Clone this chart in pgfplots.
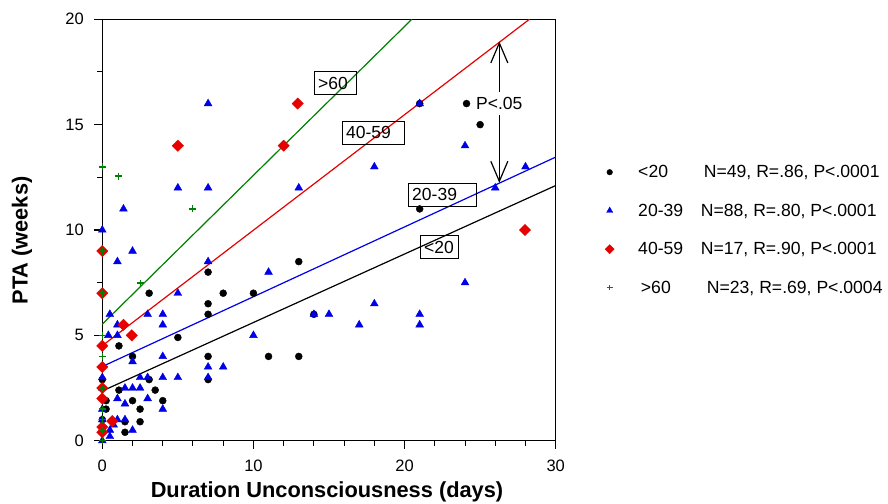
\documentclass[border=0pt]{standalone}
\usepackage{fontspec}
\setmainfont{Liberation Sans}
\usepackage{pgfplots}
\pgfplotsset{compat=1.18}
\usetikzlibrary{arrows.meta}
\definecolor{ptablue}{RGB}{0,0,230}
\definecolor{ptared}{RGB}{230,0,0}
\definecolor{ptagreen}{RGB}{0,128,0}
\pgfplotsset{
  scat/.style={only marks,
    legend image code/.code={\draw[##1] plot coordinates {(0pt,0pt)};
      \path[draw=none, fill=none] (-5pt,-5pt) rectangle (5pt,5pt);}},
  fit/.style={no marks, line width=1.2pt, forget plot},
}
\tikzset{
  tag/.style={draw=black, line width=1pt, anchor=west, minimum height=23pt,
    inner xsep=4pt, inner ysep=0pt, font=\fontsize{17.5}{21}\selectfont},
}
\begin{document}
\begin{tikzpicture}
\path[use as bounding box] (-102.3pt,-62.3pt) rectangle (785.7pt,440.7pt);
\begin{axis}[
  scale only axis, width=453.4pt, height=421.4pt,
  at={(0,0)}, anchor=south west,
  xmin=0, xmax=30, ymin=0, ymax=20,
  xtick={0,10,20,30}, ytick={0,5,10,15,20},
  minor x tick num=4, minor y tick num=1,
  tick pos=left, tick align=outside,
  major tick length=8pt, minor tick length=5pt,
  every tick/.style={black, line width=1.3pt},
  every minor tick/.append style={line width=1pt},
  axis line style={line width=1.5pt},
  tick label style={font=\fontsize{16.5}{20}\selectfont},
  yticklabel style={xshift=-7pt},
  xticklabel style={yshift=-8pt},
  /pgf/number format/assume math mode=true,
  xlabel={Duration Unconsciousness (days)},
  ylabel={PTA (weeks)},
  label style={font=\fontsize{21.8}{25}\selectfont\bfseries},
  xlabel style={at={(axis description cs:0.4956,-0.121)}, anchor=center},
  ylabel style={at={(axis description cs:-0.177,0.475)}, anchor=center},
  clip=false,
  legend cell align=left,
  legend image post style={scale=0.8},
  legend style={at={(axis description cs:1.1087,0.654)}, anchor=north west,
    draw=none, fill=none, inner sep=0pt, row sep=24.7pt,
    nodes={inner sep=0pt},
    font=\fontsize{17.6}{21}\selectfont},
]
% regression lines
\addplot[fit, black] coordinates {(0,2.36) (30,12.11)};
\addplot[fit, ptablue] coordinates {(0,3.52) (30,13.46)};
\addplot[fit, ptared] coordinates {(0,4.51) (28.26,20)};
\addplot[fit, ptagreen] coordinates {(0,5.53) (20.48,20)};

% <20
\addplot[scat, black, mark=*, mark size=3.5pt] coordinates {
 (21,16) (24.1,16) (25,15) (21,11) (13,8.5) (14,6) (11,4) (13,4)
 (7,8) (7,6.5) (7,6) (7,4) (7,2.9) (8,7) (10,7) (5,4.9) (3.1,7)
 (1.1,4.5) (2,4) (0,2.9) (1.1,2.4) (3.5,2.4) (2,1.9) (4,1.9) (3.1,2.9)
 (2.5,1.5) (2.5,0.9) (1.5,0.4) (1.5,0.9) (0.25,1.9) (0.25,1.5)
 (0,2) (0,1) (0,0.5)
};
\addlegendentry{\hspace*{24pt}\makebox[65.7pt][l]{<20}N=49, R=.86, P<.0001}
% 20-39
\addplot[scat, ptablue, mark=triangle*, mark size=4.5pt] coordinates {
 (7,16) (5,12) (7,12) (1.4,11) (0,10) (13,12) (2,9) (1,8.5) (5,7)
 (0.5,6) (3,6) (4,6) (4,5.5) (1,5.5) (0.4,5) (1,5) (7,8.5) (11,8)
 (10,5) (4,4) (2,3.75) (7,3.5) (8,3.5) (7,3) (5,3) (4,3) (3,3) (2.5,3)
 (0,3) (1.5,2.5) (2,2.5) (2.5,2.5) (1,2) (3,2) (1.5,1.75) (4,1.5)
 (1,1) (1.5,1) (0.75,0.75) (0.5,0.5) (2,0.5) (0.5,0.2) (0,0)
 (21,16) (24,14) (18,13) (28,13) (26,12) (14,6) (15,6) (18,6.5)
 (17,5.5) (21,6) (21,5.5) (24,7.5) (0,2.5) (0,1.5) (0,1) (0,0.5)
};
\addlegendentry{\hspace*{24pt}\makebox[62.7pt][l]{20-39}N=88, R=.80, P<.0001}
% 40-59
\addplot[scat, ptared, mark=square*, mark size=4pt, mark options={rotate=45}] coordinates {
 (5,14) (12.93,16) (12,14) (27.97,10) (0,9) (0,7) (0,4.5) (0,3.5)
 (0,2.5) (0,2) (0,0.65) (0,0.4) (1.4,5.5) (1.95,5) (0.66,0.93)
};
\addlegendentry{\hspace*{24pt}\makebox[62.7pt][l]{40-59}N=17, R=.90, P<.0001}
% >60
\addplot[scat, ptagreen, mark=+, mark size=3.5pt, line width=1.5pt] coordinates {
 (0,13) (1.06,12.56) (5.96,11) (2.54,7.48) (0,9) (0,7) (0,5) (0,4)
 (0,2.5) (0,1.5) (0,1) (0,0.5) (0,0)
};
\addlegendentry{\hspace*{26.7pt}\makebox[66pt][l]{>60}N=23, R=.69, P<.0004}

% annotations
\draw[line width=1.2pt, {Straight Barb[length=20pt,width=17pt]}-{Straight Barb[length=20pt,width=17pt]}]
  (axis cs:26.27,18.95) -- (axis cs:26.27,12.24);
\node[fill=white, inner xsep=1pt, inner ysep=5pt, font=\fontsize{17.5}{21}\selectfont]
  at (axis cs:26.27,16.0) {P<.05};
\node[tag] at (axis cs:13.99,16.97) {\makebox[34pt][l]{>60}};
\node[tag] at (axis cs:15.84,14.62) {\makebox[54pt][l]{40-59}};
\node[tag] at (axis cs:20.21,11.67) {\makebox[60pt][l]{20-39}};
\node[tag] at (axis cs:21.0,9.18) {\makebox[30.6pt][l]{<20}};
\end{axis}
\end{tikzpicture}
\end{document}
